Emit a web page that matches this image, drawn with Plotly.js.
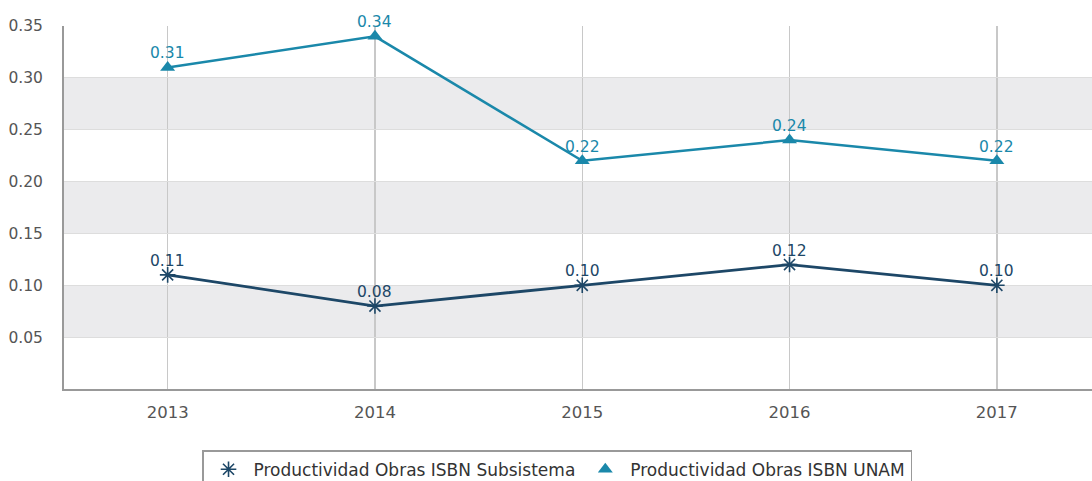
<!DOCTYPE html>
<html>
<head>
<meta charset="utf-8">
<script src="https://cdn.plot.ly/plotly-3.0.1.min.js"></script>
<style>html,body{margin:0;padding:0;background:#fff;}#chart{width:1092px;height:481px;}</style>
</head>
<body>
<div id="chart"></div>
<script>
const years = [2013, 2014, 2015, 2016, 2017];
const subsistema = [0.11, 0.08, 0.10, 0.12, 0.10];
const unam = [0.31, 0.34, 0.22, 0.24, 0.22];
const yTicks = [0.05, 0.10, 0.15, 0.20, 0.25, 0.30, 0.35];
const yTickText = ['0.05', '0.10', '0.15', '0.20', '0.25', '0.30', '0.35'];
const seriesNames = ['Productividad Obras ISBN Subsistema', 'Productividad Obras ISBN UNAM'];

const colSub = '#1d4767';
const colUnam = '#1a88aa';

// alternating gray bands between every other pair of gridlines
const bandEdges = [0].concat(yTicks);
const shapes = [];
for (let i = 1; i < bandEdges.length - 1; i += 2) {
  shapes.push({type:'rect', xref:'paper', yref:'y', x0:0, x1:1,
    y0: bandEdges[i], y1: bandEdges[i+1], fillcolor:'#ebebed', line:{width:0}, layer:'below'});
}

const font = 'DejaVu Sans, sans-serif';

// value labels placed at each data point through the axes
const annotations = [];
[[subsistema, colSub], [unam, colUnam]].forEach(([vals, col]) => {
  vals.forEach((v, i) => {
    annotations.push({x: years[i], y: v, xref:'x', yref:'y', text: v.toFixed(2),
      showarrow:false, yanchor:'middle', yshift:14,
      font:{color: col, size:15.5, family: font}});
  });
});

const traces = [
  {x: years, y: subsistema, type:'scatter', mode:'lines', showlegend:false, hoverinfo:'skip',
   line:{color:colSub, width:2.8}},
  {x: years, y: unam, type:'scatter', mode:'lines', showlegend:false, hoverinfo:'skip',
   line:{color:colUnam, width:2.5}},
  {x: years, y: subsistema, name: seriesNames[0], type:'scatter', mode:'markers', cliponaxis:false,
   marker:{symbol:'asterisk-open', size:13, color:colSub, line:{color:colSub, width:1.6}}},
  {x: years, y: unam, name: seriesNames[1], type:'scatter', mode:'markers', cliponaxis:false,
   marker:{symbol:'triangle-up', size:13, color:colUnam}}
];

const layout = {
  width:1092, height:481,
  margin:{l:64, r:0, t:26, b:92},
  paper_bgcolor:'#fff', plot_bgcolor:'#fff',
  font:{family:font, color:'#555', size:15},
  showlegend:true,
  xaxis:{range:[2012.5, 2017.459], tickvals:years, ticktext:years.map(String),
    showgrid:true, gridcolor:'#c8c8c8', gridwidth:1.5, zeroline:false,
    showline:true, linecolor:'#999', linewidth:2, ticks:'', ticklabelstandoff:7,
    tickfont:{size:16.5, color:'#555'}},
  yaxis:{range:[0, 0.35], tickvals:yTicks, ticktext:yTickText,
    showgrid:true, gridcolor:'#dddddd', gridwidth:1, zeroline:false,
    showline:true, linecolor:'#999', linewidth:2, ticks:'', ticklabelstandoff:16,
    tickfont:{size:15.5, color:'#555'}},
  shapes: shapes,
  annotations: annotations,
  legend:{orientation:'h', xref:'container', yref:'container', x:0.185, xanchor:'left', y:0.064, yanchor:'top',
    bordercolor:'#999', borderwidth:1.5, bgcolor:'#fff',
    font:{size:17, color:'#333', family:font}, itemwidth:40}
};
Plotly.newPlot('chart', traces, layout, {displayModeBar:false, staticPlot:true});
</script>
</body>
</html>
